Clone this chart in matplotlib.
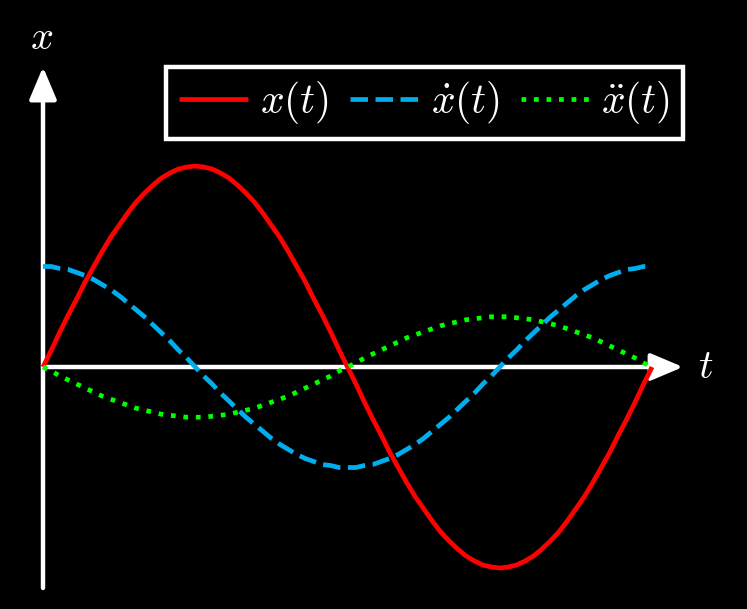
import numpy as np
import matplotlib
matplotlib.use("Agg")
import matplotlib.pyplot as plt

plt.rcParams['mathtext.fontset'] = 'cm'

# angle samples in degrees (0 .. 360, every 5 degrees)
t_deg = list(range(0, 361, 5))
# position, velocity, acceleration
x_vals = [0.00, 0.17, 0.35, 0.52, 0.68, 0.85, 1.00, 1.15, 1.29, 1.41, 1.53, 1.64,
          1.73, 1.81, 1.88, 1.93, 1.97, 1.99, 2.00, 1.99, 1.97, 1.93, 1.88, 1.81,
          1.73, 1.64, 1.53, 1.41, 1.29, 1.15, 1.00, 0.85, 0.68, 0.52, 0.35, 0.17,
          0.00, -0.17, -0.35, -0.52, -0.68, -0.85, -1.00, -1.15, -1.29, -1.41, -1.53,
          -1.64, -1.73, -1.81, -1.88, -1.93, -1.97, -1.99, -2.00, -1.99, -1.97, -1.93,
          -1.88, -1.81, -1.73, -1.64, -1.53, -1.41, -1.29, -1.15, -1.00, -0.85, -0.68,
          -0.52, -0.35, -0.17, 0.00]
xd_vals = [1.00, 1.00, 0.98, 0.97, 0.94, 0.91, 0.87, 0.82, 0.77, 0.71, 0.64, 0.57,
           0.50, 0.42, 0.34, 0.26, 0.17, 0.09, 0.00, -0.09, -0.17, -0.26, -0.34, -0.42,
           -0.50, -0.57, -0.64, -0.71, -0.77, -0.82, -0.87, -0.91, -0.94, -0.97, -0.98,
           -1.00, -1.00, -1.00, -0.98, -0.97, -0.94, -0.91, -0.87, -0.82, -0.77, -0.71,
           -0.64, -0.57, -0.50, -0.42, -0.34, -0.26, -0.17, -0.09, 0.00, 0.09, 0.17,
           0.26, 0.34, 0.42, 0.50, 0.57, 0.64, 0.71, 0.77, 0.82, 0.87, 0.91, 0.94,
           0.97, 0.98, 1.00, 1.00]
xdd_vals = [0.00, -0.04, -0.09, -0.13, -0.17, -0.21, -0.25, -0.29, -0.32, -0.35, -0.38,
            -0.41, -0.43, -0.45, -0.47, -0.48, -0.49, -0.50, -0.50, -0.50, -0.49, -0.48,
            -0.47, -0.45, -0.43, -0.41, -0.38, -0.35, -0.32, -0.29, -0.25, -0.21, -0.17,
            -0.13, -0.09, -0.04, 0.00, 0.04, 0.09, 0.13, 0.17, 0.21, 0.25, 0.29, 0.32,
            0.35, 0.38, 0.41, 0.43, 0.45, 0.47, 0.48, 0.49, 0.50, 0.50, 0.50, 0.49,
            0.48, 0.47, 0.45, 0.43, 0.41, 0.38, 0.35, 0.32, 0.29, 0.25, 0.21, 0.17,
            0.13, 0.09, 0.04, 0.00]
labels = ['$x(t)$', r'$\dot{x}(t)$', r'$\ddot{x}(t)$']

t = np.radians(t_deg)

fig = plt.figure(figsize=(7.47, 6.09), dpi=100, facecolor='black')
ax = fig.add_axes([0, 0, 1, 1])
ax.set_facecolor('black')
ax.set_xlim(-0.4436, 7.263)
ax.set_ylim(-2.408, 3.652)
ax.axis('off')

# axes with arrow heads
arrow = dict(arrowstyle='-|>,head_length=0.9,head_width=0.38', color='white',
             lw=3.2, shrinkA=0, shrinkB=0, mutation_scale=22)
ax.annotate('', xy=(6.603, 0), xytext=(0, 0), arrowprops=arrow, zorder=1)
ax.annotate('', xy=(0, 2.985), xytext=(0, -2.199), arrowprops=arrow, zorder=1)
ax.text(6.84, 0, '$t$', color='white', fontsize=29, ha='center', va='center')
ax.text(-0.01, 3.274, '$x$', color='white', fontsize=29, ha='center', va='center')

ax.plot(t, x_vals, color='#ff0000', lw=3.4, label=labels[0], solid_capstyle='butt', zorder=2)
ax.plot(t, xd_vals, color='#00aeef', lw=3.4, ls='--', label=labels[1], zorder=3)
ax.plot(t, xdd_vals, color='#00ff00', lw=3.4, ls=':', label=labels[2], zorder=4)

leg = ax.legend(loc='upper right', bbox_to_anchor=(683 / 747, 1 - 67 / 609),
                bbox_transform=fig.transFigure, ncol=3, fontsize=30,
                frameon=True, fancybox=False, facecolor='black', edgecolor='white',
                framealpha=1, handlelength=1.65, handletextpad=0.29,
                columnspacing=0.5, borderaxespad=0, borderpad=0.3)
leg.get_frame().set_linewidth(3.2)
for txt in leg.get_texts():
    txt.set_color('white')

fig.savefig('out.png', dpi=100, facecolor='black')
